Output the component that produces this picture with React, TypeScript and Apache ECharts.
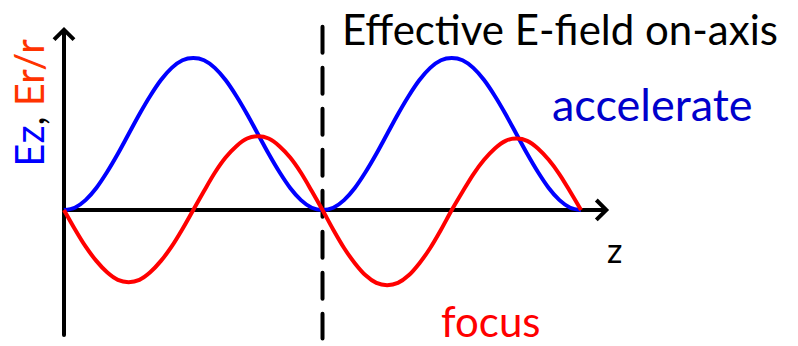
import React, { useEffect, useRef } from "react";
import * as echarts from "echarts";

// Phase along z, in degrees (two full periods)
const phase = [
  0, 15, 30, 45, 60, 75, 90, 105, 120, 135, 150, 165,
  180, 195, 210, 225, 240, 255, 270, 285, 300, 315, 330, 345,
  360, 375, 390, 405, 420, 435, 450, 465, 480, 495, 510, 525,
  540, 555, 570, 585, 600, 615, 630, 645, 660, 675, 690, 705, 720,
];

// Longitudinal field Ez (accelerating)
const ezValues = [
  0, 0.03, 0.13, 0.29, 0.5, 0.74, 1.0, 1.26, 1.5, 1.71, 1.87, 1.97,
  2.0, 1.97, 1.87, 1.71, 1.5, 1.26, 1.0, 0.74, 0.5, 0.29, 0.13, 0.03,
  0, 0.03, 0.13, 0.29, 0.5, 0.74, 1.0, 1.26, 1.5, 1.71, 1.87, 1.97,
  2.0, 1.97, 1.87, 1.71, 1.5, 1.26, 1.0, 0.74, 0.5, 0.29, 0.13, 0.03, 0,
];

// Radial field Er/r (focusing)
const erValues = [
  0, -0.25, -0.48, -0.67, -0.82, -0.92, -0.95, -0.92, -0.82, -0.67, -0.48, -0.25,
  0, 0.25, 0.49, 0.69, 0.84, 0.94, 0.97, 0.94, 0.84, 0.69, 0.49, 0.25,
  0, -0.26, -0.5, -0.7, -0.86, -0.96, -0.99, -0.96, -0.86, -0.7, -0.5, -0.26,
  0, 0.24, 0.47, 0.66, 0.81, 0.91, 0.94, 0.91, 0.81, 0.66, 0.47, 0.24, 0,
];

// Vertical dashed divider at the cell boundary
const dividerPhase = 360;
const dividerSpan = [2.41, -1.69];

const titleText = "Effective E-field on-axis";
const accelText = "accelerate";
const focusText = "focus";
const zText = "z";

const FONT = "Lato";

// Open chevron arrowhead, tip pointing up
const chevron =
  "path://M11.414,0 L22.828,11.414 L20,14.242 L11.414,5.656 L2.828,14.242 L0,11.414 Z";

export default function App() {
  const ref = useRef<HTMLDivElement>(null);

  useEffect(() => {
    if (!ref.current) return;
    const chart = echarts.init(ref.current, null, { renderer: "svg" });

    const ez = phase.map((p, i) => [p, ezValues[i]]);
    const er = phase.map((p, i) => [p, erValues[i]]);

    const axisLine = {
      show: true,
      onZero: true,
      symbol: ["none", chevron],
      symbolSize: [22.8, 14.2],
      symbolOffset: [0, -2],
      lineStyle: { color: "#000", width: 4 },
    };

    chart.setOption({
      animation: false,
      backgroundColor: "#fff",
      grid: { left: 64, right: 194, top: 32, bottom: 11, containLabel: false },
      xAxis: {
        type: "value",
        min: 0,
        max: 752,
        axisLine,
        axisTick: { show: false },
        axisLabel: { show: false },
        splitLine: { show: false },
      },
      yAxis: {
        type: "value",
        min: -1.645,
        max: 2.342,
        axisLine,
        axisTick: { show: false },
        axisLabel: { show: false },
        splitLine: { show: false },
      },
      series: [
        {
          type: "line",
          data: [
            [dividerPhase, dividerSpan[0]],
            [dividerPhase, dividerSpan[1]],
          ],
          clip: false,
          showSymbol: false,
          lineStyle: { color: "#000", width: 4, type: [26, 15], cap: "round" },
          z: 1,
        },
        {
          type: "line",
          data: ez,
          smooth: 0.3,
          showSymbol: false,
          lineStyle: { color: "#0000ff", width: 4 },
          z: 3,
        },
        {
          type: "line",
          data: er,
          smooth: 0.3,
          showSymbol: false,
          lineStyle: { color: "#ff0000", width: 4 },
          z: 4,
        },
      ],
      graphic: [
        {
          type: "text",
          x: 342,
          y: 29,
          style: {
            text: titleText,
            fontFamily: FONT,
            fontSize: 42,
            lineHeight: 40,
            fill: "#000",
            textAlign: "left",
            textVerticalAlign: "middle",
          },
        },
        {
          type: "text",
          x: 552,
          y: 104,
          style: {
            text: accelText,
            fontFamily: FONT,
            fontSize: 45,
            lineHeight: 40,
            fill: "#0000cc",
            textAlign: "left",
            textVerticalAlign: "middle",
          },
        },
        {
          type: "text",
          x: 441,
          y: 321,
          style: {
            text: focusText,
            fontFamily: FONT,
            fontSize: 42,
            lineHeight: 32,
            fill: "#ff0000",
            textAlign: "left",
            textVerticalAlign: "middle",
          },
        },
        {
          type: "text",
          x: 607,
          y: 249,
          style: {
            text: zText,
            fontFamily: FONT,
            fontSize: 34,
            fill: "#000",
            textAlign: "left",
            textVerticalAlign: "middle",
          },
        },
        {
          type: "text",
          x: 29,
          y: 103,
          rotation: Math.PI / 2,
          style: {
            text: "{b|Ez}{k|, }{r|Er/r}",
            fontFamily: FONT,
            fontSize: 40,
            textAlign: "center",
            textVerticalAlign: "middle",
            rich: {
              b: { fill: "#0000ff", fontFamily: FONT, fontSize: 40 },
              k: { fill: "#000", fontFamily: FONT, fontSize: 40 },
              r: { fill: "#ff3300", fontFamily: FONT, fontSize: 40 },
            },
          },
        },
      ],
    });

    return () => chart.dispose();
  }, []);

  return (
    <div
      ref={ref}
      style={{ position: "absolute", left: 0, top: 0, width: 798, height: 346 }}
    />
  );
}
